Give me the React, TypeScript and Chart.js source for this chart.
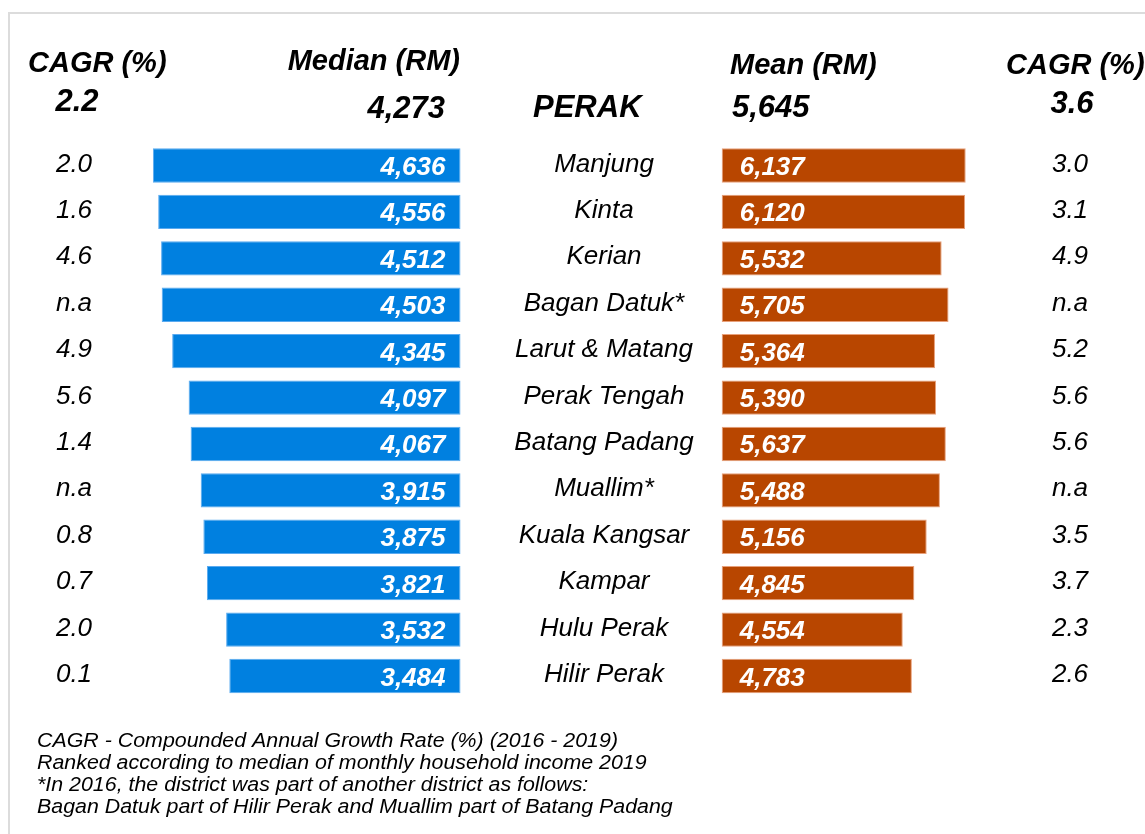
import React, { useEffect, useRef } from "react";
import { Chart, registerables } from "chart.js";

Chart.register(...registerables);

// ---------- data ----------
const districts = [
  "Manjung", "Kinta", "Kerian", "Bagan Datuk*", "Larut & Matang", "Perak Tengah",
  "Batang Padang", "Muallim*", "Kuala Kangsar", "Kampar", "Hulu Perak", "Hilir Perak",
];
const medianIncome = [4636, 4556, 4512, 4503, 4345, 4097, 4067, 3915, 3875, 3821, 3532, 3484];
const meanIncome = [6137, 6120, 5532, 5705, 5364, 5390, 5637, 5488, 5156, 4845, 4554, 4783];
const medianCagr = ["2.0", "1.6", "4.6", "n.a", "4.9", "5.6", "1.4", "n.a", "0.8", "0.7", "2.0", "0.1"];
const meanCagr = ["3.0", "3.1", "4.9", "n.a", "5.2", "5.6", "5.6", "n.a", "3.5", "3.7", "2.3", "2.6"];

const stateName = "PERAK";
const stateMedian = "4,273";
const stateMean = "5,645";
const stateMedianCagr = "2.2";
const stateMeanCagr = "3.6";

const headerCagr = "CAGR (%)";
const headerMedian = "Median (RM)";
const headerMean = "Mean (RM)";

const footnotes = [
  "CAGR - Compounded Annual Growth Rate (%) (2016 - 2019)",
  "Ranked according to median of monthly household income 2019",
  "*In 2016, the district was part of another district as follows:",
  "Bagan Datuk part of Hilir Perak and Muallim part of Batang Padang",
];

// ---------- layout ----------
const W = 1145;
const H = 834;
const FONT = "'Liberation Sans', Arial, Helvetica, sans-serif";
const BLUE = "#0080E0";
const ORANGE = "#B84600";

// median axis: zero at x=460.5, 15.07 RM per px, drawn leftwards
const medZeroPx = 460.5;
const medRmPerPx = 15.07;
const medMin = -(W - medZeroPx) * medRmPerPx;
const medMax = medMin + W * medRmPerPx;
// mean axis: zero at x=721.7, 25.15 RM per px, drawn rightwards
const meanZeroPx = 721.7;
const meanRmPerPx = 25.15;
const meanMin = -meanZeroPx * meanRmPerPx;
const meanMax = meanMin + W * meanRmPerPx;

const fmt = (v: number) => v.toLocaleString("en-US");

const textPlugin = {
  id: "perakText",
  beforeDraw(chart: any) {
    const ctx = chart.ctx;
    ctx.save();
    ctx.strokeStyle = "#dcdcdc";
    ctx.lineWidth = 2;
    ctx.strokeRect(9, 13, W + 50, H + 50);
    ctx.restore();
  },
  afterDatasetsDraw(chart: any) {
    const ctx = chart.ctx;
    const yScale = chart.scales.y;
    const medMeta = chart.getDatasetMeta(0);
    const meanMeta = chart.getDatasetMeta(1);
    ctx.save();

    // headers
    ctx.fillStyle = "#000";
    ctx.textBaseline = "alphabetic";
    ctx.font = `italic bold 29px ${FONT}`;
    ctx.textAlign = "left";
    ctx.fillText(headerCagr, 28, 72);
    ctx.textAlign = "right";
    ctx.fillText(headerMedian, 460, 70);
    ctx.textAlign = "left";
    ctx.fillText(headerMean, 730, 74);
    ctx.fillText(headerCagr, 1006, 74);

    ctx.font = `italic bold 31px ${FONT}`;
    ctx.textAlign = "center";
    ctx.fillText(stateMedianCagr, 77, 111);
    ctx.textAlign = "right";
    ctx.fillText(stateMedian, 445, 118);
    ctx.textAlign = "left";
    ctx.fillText(stateName, 533, 117);
    ctx.fillText(stateMean, 732, 117);
    ctx.textAlign = "center";
    ctx.fillText(stateMeanCagr, 1072, 113);

    // rows
    districts.forEach((name, i) => {
      const cy = yScale.getPixelForValue(i);
      ctx.fillStyle = "#000";
      ctx.font = `italic 26px ${FONT}`;
      ctx.textAlign = "center";
      ctx.fillText(medianCagr[i], 74, cy + 6);
      ctx.fillText(name, 604, cy + 6);
      ctx.fillText(meanCagr[i], 1070, cy + 6);

      ctx.fillStyle = "#fff";
      ctx.font = `italic bold 26px ${FONT}`;
      const mb = medMeta.data[i];
      ctx.textAlign = "right";
      ctx.fillText(fmt(medianIncome[i]), mb.base - 15, cy + 9.5);
      const nb = meanMeta.data[i];
      ctx.textAlign = "left";
      ctx.fillText(fmt(meanIncome[i]), nb.base + 18, cy + 9.5);
    });

    // footnotes
    ctx.fillStyle = "#000";
    ctx.font = `italic 20px ${FONT}`;
    ctx.textAlign = "left";
    const target = 581;
    const measured = ctx.measureText(footnotes[0]).width;
    const sx = measured > 0 ? target / measured : 1;
    footnotes.forEach((line, k) => {
      ctx.save();
      ctx.translate(37, 747 + k * 22);
      ctx.scale(sx, 1);
      ctx.fillText(line, 0, 0);
      ctx.restore();
    });

    ctx.restore();
  },
};

export default function App() {
  const ref = useRef<HTMLCanvasElement | null>(null);

  useEffect(() => {
    if (!ref.current) return;
    const bandTop = 142.3;
    const band = 46.41;
    const bandBottom = bandTop + band * districts.length;
    const chart = new Chart(ref.current, {
      type: "bar",
      data: {
        labels: districts,
        datasets: [
          {
            label: "Median (RM)",
            data: medianIncome,
            xAxisID: "xMed",
            backgroundColor: BLUE,
            borderColor: "#5aaaf0",
            borderWidth: 1,
            borderSkipped: false,
            grouped: false,
            categoryPercentage: 1,
            barPercentage: 0.74,
          } as any,
          {
            label: "Mean (RM)",
            data: meanIncome,
            xAxisID: "xMean",
            backgroundColor: ORANGE,
            borderColor: "#e8a07a",
            borderWidth: 1,
            borderSkipped: false,
            grouped: false,
            categoryPercentage: 1,
            barPercentage: 0.74,
          } as any,
        ],
      },
      options: {
        indexAxis: "y",
        responsive: false,
        animation: false,
        devicePixelRatio: 1,
        layout: { padding: { top: bandTop, bottom: H - bandBottom, left: 0, right: 0 } },
        plugins: { legend: { display: false }, tooltip: { enabled: false } },
        scales: {
          y: { type: "category", display: false, offset: true },
          xMed: {
            type: "linear",
            axis: "x",
            reverse: true,
            min: medMin,
            max: medMax,
            display: false,
          },
          xMean: {
            type: "linear",
            axis: "x",
            min: meanMin,
            max: meanMax,
            display: false,
          },
        },
      } as any,
      plugins: [textPlugin],
    });
    return () => chart.destroy();
  }, []);

  return (
    <div style={{ position: "absolute", left: 0, top: 0, width: W, height: H, background: "#fff" }}>
      <canvas ref={ref} width={W} height={H} style={{ display: "block", width: W, height: H }} />
    </div>
  );
}
